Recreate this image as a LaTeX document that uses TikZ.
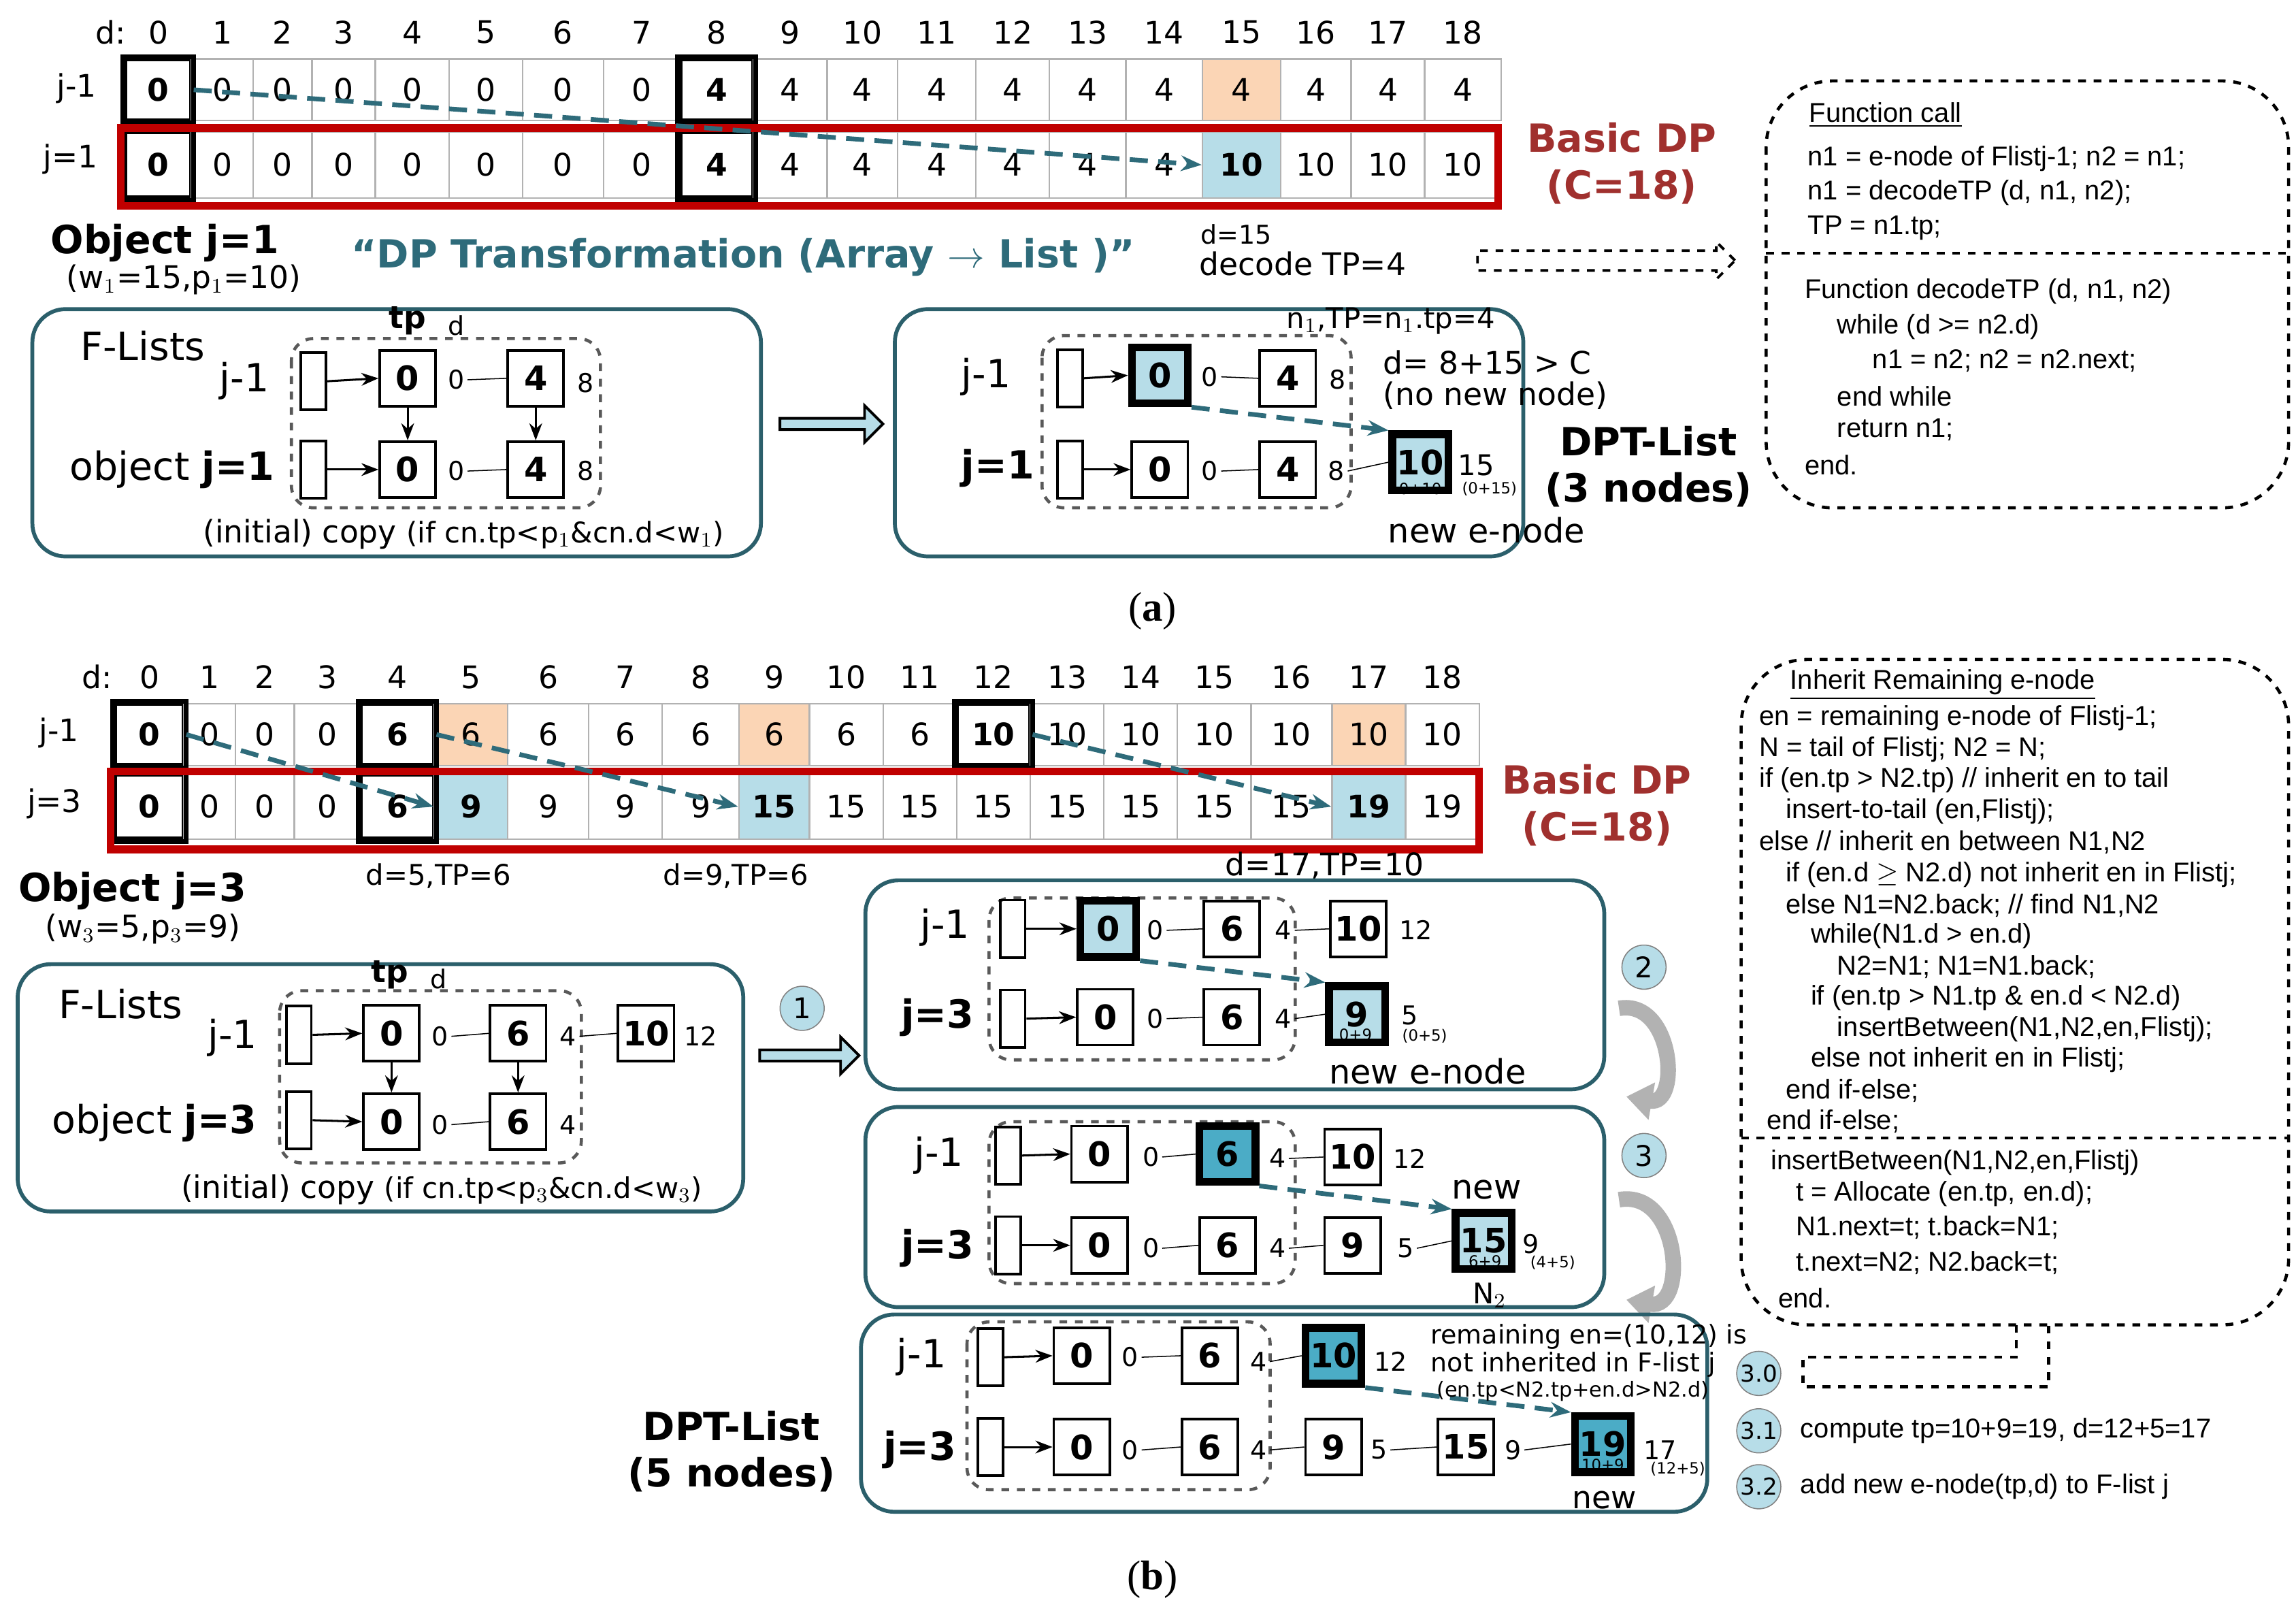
\documentclass[tikz,border=0pt]{standalone}
\usepackage{fontspec}
\setmainfont{DejaVu Sans}
\newfontfamily\codef{Liberation Sans}
\newfontfamily\seriff{Liberation Serif}
\usetikzlibrary{arrows.meta,shapes.arrows}
\definecolor{tealc}{HTML}{2E6B7A}
\definecolor{boxc}{HTML}{2B5F6B}
\definecolor{redc}{HTML}{C00000}
\definecolor{dpc}{HTML}{A0302E}
\definecolor{orc}{HTML}{FBD5B5}
\definecolor{lbc}{HTML}{B7DDE8}
\definecolor{dbc}{HTML}{4BACC6}
\newcommand\fsz[1]{\fontsize{#1}{#1}\selectfont}
\newcommand\LN[5]{\node[ln,#5] (#1) at (#2,#3) {#4};}
\newcommand\LB[4]{\node[lb] (#1) at (#2,#3) {#4};}
\newcommand\HD[3]{\node[hd] (#1) at (#2,#3) {};}
\begin{document}
\begin{tikzpicture}[x=0.02cm,y=-0.02cm,
 c/.style={draw=gray!60,line width=0.6pt,inner sep=0pt,font=\fsz{12}},
 cb/.style={c,draw=black,line width=1.8pt,font=\fsz{12}\bfseries},
 co/.style={c,fill=orc},
 cbl/.style={c,fill=lbc,font=\fsz{12}\bfseries},
 idx/.style={font=\fsz{12},inner sep=0pt},
 dar/.style={dash pattern=on 7pt off 4pt,line width=1.8pt,tealc,-{Stealth[length=8pt]}},
 ln/.style={draw,line width=1pt,minimum size=0.76cm,inner sep=0pt,font=\fsz{13}\bfseries},
 thk/.style={line width=3pt},
 lb/.style={font=\fsz{10},inner sep=1pt},
 sm/.style={font=\fsz{6},inner sep=0pt},
 hd/.style={draw,line width=1pt,minimum width=0.34cm,minimum height=0.78cm,inner sep=0pt},
 ob/.style={draw=boxc,line width=1.5pt,rounded corners=0.45cm},
 ib/.style={draw=gray!70!black,dashed,line width=1.2pt,rounded corners=0.3cm},
 circ/.style={circle,draw=gray,fill=lbc,minimum size=0.6cm,inner sep=0pt,font=\fsz{11}},
 code/.style={anchor=west,font=\codef\fsz{10.5},inner sep=0pt},
 big/.style={font=\fsz{15}},
 bigb/.style={font=\fsz{15}\bfseries},
 hol/.style={single arrow,draw,line width=1pt,fill=lbc,minimum width=0.5cm,single arrow head extend=0.12cm,inner sep=1pt}
]
\useasboundingbox (0,0) rectangle (1560,1094);
% ===================== (a) ======================
\node[idx] (ad) at (75,22) {d:};
\foreach \l/\r/\v/\s [count=\i from 0] in {85/130/0/cb,130/172/0/c,172/212/0/c,212/255/0/c,255/305/0/c,305/355/0/c,355/410/0/c,410/462/0/c,462/512/4/cb,512/562/4/c,562/610/4/c,610/663/4/c,663/713/4/c,713/765/4/c,765/817/4/c,817/870/4/co,870/918/4/c,918/968/4/c,968/1020/4/c}{
 \node[idx] (ai\i) at ({(\l+\r)/2},22) {\i};
 \node[\s,minimum width={(\r-\l)*0.02cm},minimum height=0.84cm] (at\i) at ({(\l+\r)/2},61) {\v};
}
\foreach \l/\r/\v/\s [count=\i from 0] in {85/130/0/cb,130/172/0/c,172/212/0/c,212/255/0/c,255/305/0/c,305/355/0/c,355/410/0/c,410/462/0/c,462/512/4/cb,512/562/4/c,562/610/4/c,610/663/4/c,663/713/4/c,713/765/4/c,765/817/4/c,817/870/10/cbl,870/918/10/c,918/968/10/c,968/1020/10/c}{
 \node[\s,minimum width={(\r-\l)*0.02cm},minimum height=0.9cm] (ab\i) at ({(\l+\r)/2},112) {\v};
}
\draw[cb] (at0.north west) rectangle (at0.south east);
\draw[cb] (at8.north west) rectangle (at8.south east);
\draw[cb] (ab0.north west) rectangle (ab0.south east);
\draw[cb] (ab8.north west) rectangle (ab8.south east);
\draw[redc,line width=3pt] (82,87) rectangle (1018,140);
\draw[dar] (at0.east) -- (ab15.west);
\node[font=\fsz{12}] (aj1) at (52,60) {j-1};
\node[font=\fsz{12}] (aj2) at (48,108) {j=1};
\node[bigb,text=dpc,align=center] (abdp) at (1102,111) {Basic DP\\[3pt](C=18)};
\node[bigb] (aobj) at (112,165) {Object j=1};
\node[font=\fsz{12}] (aw) at (125,190) {(w$_1$=15,p$_1$=10)};
\node[font=\fsz{15}\bfseries,text=tealc] (atr) at (505,175) {“DP Transformation (Array $\rightarrow$ List )”};
\node[font=\fsz{10}] (ad15) at (840,159) {d=15};
\node[font=\fsz{12}] (adec) at (885,179) {decode TP=4};
\node[single arrow,draw,dashed,line width=1pt,minimum width=0.5cm,minimum height=3.5cm,single arrow head extend=0.12cm] (adarr) at (1088,177) {};
% function box
\draw[dashed,line width=1.2pt,rounded corners=0.9cm] (1200,55) rectangle (1555,345);
\draw[dashed,line width=1pt] (1200,172) -- (1555,172);
\node[code] (fc0) at (1229,78) {\underline{Function call}};
\node[code] (fc1) at (1228,108) {n1 = e-node of Flistj-1; n2 = n1;};
\node[code] (fc2) at (1228,131) {n1 = decodeTP (d, n1, n2);};
\node[code] (fc3) at (1228,155) {TP = n1.tp;};
\node[code] (fc4) at (1226,198) {Function decodeTP (d, n1, n2)};
\node[code] (fc5) at (1248,222) {while (d >= n2.d)};
\node[code] (fc6) at (1272,245) {n1 = n2; n2 = n2.next;};
\node[code] (fc7) at (1248,269) {end while};
\node[code] (fc8) at (1248,292) {return n1;};
\node[code] (fc9) at (1226,316) {end.};
% a-left box
\draw[ob] (22,210) rectangle (517,378);
\draw[ib] (198,230) rectangle (408,345);
\node[big] (afl) at (97,235) {F-Lists};
\node[big] (afj) at (166,259) {j-1};
\node[big] (afo) at (117,319) {object \textbf{j=1}};
\node[font=\fsz{12}\bfseries] (atp) at (277,218) {tp};
\node[font=\fsz{10}] (ad1) at (310,221) {d};
\HD{ha1}{213}{259} \HD{ha2}{213}{319}
\LN{la1}{277}{257}{0}{} \LN{la2}{364}{257}{4}{}
\LN{la3}{277}{319}{0}{} \LN{la4}{364}{319}{4}{}
\LB{lal1}{310}{258}{0} \LB{lal2}{398}{260}{8} \LB{lal3}{310}{320}{0} \LB{lal4}{398}{320}{8}
\draw[-{Stealth},thick] (ha1.east) -- (la1.west);
\draw[-{Stealth},thick] (ha2.east) -- (la3.west);
\draw (lal1.east) -- (la2.west); \draw (lal3.east) -- (la4.west);
\draw[-{Stealth},thick] (la1.south) -- (la3.north);
\draw[-{Stealth},thick] (la2.south) -- (la4.north);
\node[font=\fsz{12}] (acopy) at (315,363) {(initial) copy {\fsz{11}(if cn.tp<p$_1$\&cn.d<w$_1$)}};
\node[hol,minimum height=1.4cm] (aha) at (563,288) {};
% a-right box
\draw[ob] (608,210) rectangle (1035,378);
\draw[ib] (708,228) rectangle (918,345);
\node[big] (arj1) at (670,256) {j-1};
\node[bigb] (arj2) at (678,318) {j=1};
\HD{hr1}{727}{257} \HD{hr2}{727}{319}
\LN{lr1}{788}{255}{0}{thk,fill=lbc} \LN{lr2}{875}{257}{4}{}
\LN{lr3}{788}{319}{0}{} \LN{lr4}{875}{319}{4}{}
\LN{lr5}{965}{314}{10}{thk,fill=lbc}
\LB{lrl1}{822}{256}{0} \LB{lrl2}{909}{258}{8} \LB{lrl3}{822}{320}{0} \LB{lrl4}{908}{320}{8}
\LB{lrl5}{1003}{316}{\fsz{11}15}
\node[sm] (lrs1) at (965,332) {0+10};
\node[sm] (lrs2) at (1012,332) {(0+15)};
\draw[-{Stealth},thick] (hr1.east) -- (lr1.west);
\draw[-{Stealth},thick] (hr2.east) -- (lr3.west);
\draw (lrl1.east) -- (lr2.west); \draw (lrl3.east) -- (lr4.west);
\draw (lrl4.east) -- (lr5.west);
\draw[dar] (lr1.south east) -- (lr5.north west);
\node[font=\fsz{11}] (an1) at (945,218) {n$_1$,TP=n$_1$.tp=4};
\node[font=\fsz{12},align=left] (adc) at (1016,258) {d= 8+15 > C\\(no new node)};
\node[font=\fsz{13}] (anew) at (1010,360) {new e-node};
\node[bigb,align=center] (adpt) at (1120,317) {DPT-List\\[3pt](3 nodes)};
\node[font=\seriff\fsz{16}] (alab) at (783,415) {(\textbf{a})};
% ===================== (b) ======================
\node[idx] (bd) at (66,460) {d:};
\foreach \l/\r/\v/\s [count=\i from 0] in {78/125/0/cb,125/160/0/c,160/200/0/c,200/245/0/c,245/295/6/cb,295/345/6/co,345/400/6/c,400/450/6/c,450/502/6/c,502/550/6/co,550/600/6/c,600/650/6/c,650/700/10/cb,700/750/10/c,750/800/10/c,800/850/10/c,850/905/10/c,905/955/10/co,955/1005/10/c}{
 \node[idx] (bi\i) at ({(\l+\r)/2},460) {\i};
 \node[\s,minimum width={(\r-\l)*0.02cm},minimum height=0.84cm] (bt\i) at ({(\l+\r)/2},499) {\v};
}
\foreach \l/\r/\v/\s [count=\i from 0] in {78/125/0/cb,125/160/0/c,160/200/0/c,200/245/0/c,245/295/6/cb,295/345/9/cbl,345/400/9/c,400/450/9/c,450/502/9/c,502/550/15/cbl,550/600/15/c,600/650/15/c,650/700/15/c,700/750/15/c,750/800/15/c,800/850/15/c,850/905/15/c,905/955/19/cbl,955/1005/19/c}{
 \node[\s,minimum width={(\r-\l)*0.02cm},minimum height=0.88cm] (bb\i) at ({(\l+\r)/2},548) {\v};
}
\draw[cb] (bt0.north west) rectangle (bt0.south east);
\draw[cb] (bt4.north west) rectangle (bt4.south east);
\draw[cb] (bt12.north west) rectangle (bt12.south east);
\draw[cb] (bb0.north west) rectangle (bb0.south east);
\draw[cb] (bb4.north west) rectangle (bb4.south east);
\draw[redc,line width=3pt] (75,524) rectangle (1005,577);
\draw[dar] (bt0.east) -- (bb5.west);
\draw[dar] (bt4.east) -- (bb9.west);
\draw[dar] (bt12.east) -- (bb17.west);
\node[font=\fsz{12}] (bj1) at (40,498) {j-1};
\node[font=\fsz{12}] (bj3) at (37,546) {j=3};
\node[bigb,text=dpc,align=center] (bbdp) at (1085,547) {Basic DP\\[3pt](C=18)};
\node[font=\fsz{11}] (bd5) at (298,595) {d=5,TP=6};
\node[font=\fsz{11}] (bd9) at (500,595) {d=9,TP=6};
\node[font=\fsz{12}] (bd17) at (900,588) {d=17,TP=10};
\node[bigb] (bobj) at (90,605) {Object j=3};
\node[font=\fsz{12}] (bw) at (97,631) {(w$_3$=5,p$_3$=9)};
% b-left
\draw[ob] (12,655) rectangle (505,823);
\draw[ib] (190,673) rectangle (395,790);
\node[big] (bfl) at (82,682) {F-Lists};
\node[big] (bfj) at (158,705) {j-1};
\node[big] (bfo) at (105,763) {object \textbf{j=3}};
\node[font=\fsz{12}\bfseries] (btp) at (265,662) {tp};
\node[font=\fsz{10}] (bdd) at (298,665) {d};
\HD{hb1}{203}{703} \HD{hb2}{203}{761}
\LN{lb1}{266}{702}{0}{} \LN{lb2}{352}{702}{6}{} \LN{lb3}{439}{702}{10}{}
\LN{lb4}{266}{762}{0}{} \LN{lb5}{352}{762}{6}{}
\LB{lbl1}{299}{704}{0} \LB{lbl2}{386}{704}{4} \LB{lbl3}{476}{704}{12}
\LB{lbl4}{299}{764}{0} \LB{lbl5}{386}{764}{4}
\draw[-{Stealth},thick] (hb1.east) -- (lb1.west);
\draw[-{Stealth},thick] (hb2.east) -- (lb4.west);
\draw (lbl1.east) -- (lb2.west); \draw (lbl2.east) -- (lb3.west);
\draw (lbl4.east) -- (lb5.west);
\draw[-{Stealth},thick] (lb1.south) -- (lb4.north);
\draw[-{Stealth},thick] (lb2.south) -- (lb5.north);
\node[font=\fsz{12}] (bcopy) at (300,808) {(initial) copy {\fsz{11}(if cn.tp<p$_3$\&cn.d<w$_3$)}};
\node[circ] (c1) at (545,685) {1};
\node[hol,minimum height=1.35cm] (bha) at (548,717) {};
% b1
\draw[ob] (588,598) rectangle (1090,740);
\draw[ib] (672,610) rectangle (880,720);
\node[big] (b1j1) at (642,630) {j-1};
\node[bigb] (b1j3) at (637,691) {j=3};
\HD{h11}{688}{631} \HD{h12}{688}{692}
\LN{n11}{753}{631}{0}{thk,fill=lbc} \LN{n12}{837}{631}{6}{} \LN{n13}{923}{631}{10}{}
\LN{n14}{751}{691}{0}{} \LN{n15}{837}{691}{6}{} \LN{n16}{922}{689}{9}{thk,fill=lbc}
\LB{m11}{785}{632}{0} \LB{m12}{872}{632}{4} \LB{m13}{962}{632}{12}
\LB{m14}{785}{692}{0} \LB{m15}{872}{692}{4} \LB{m16}{958}{690}{5}
\node[sm] (s11) at (921,703) {0+9};
\node[sm] (s12) at (968,704) {(0+5)};
\draw[-{Stealth},thick] (h11.east) -- (n11.west);
\draw[-{Stealth},thick] (h12.east) -- (n14.west);
\draw (m11.east) -- (n12.west); \draw (m12.east) -- (n13.west);
\draw (m14.east) -- (n15.west); \draw (m15.east) -- (n16.west);
\draw[dar] (n11.south east) -- (n16.north west);
\node[font=\fsz{13}] (b1new) at (970,728) {new e-node};
\node[circ] (c2) at (1117,657) {2};
\draw[-{Triangle[length=10pt,width=14pt]},line width=6pt,gray!60] (1100,685) to[out=10,in=-10,looseness=1.6] (1105,745);
% b2
\draw[ob] (588,752) rectangle (1090,888);
\draw[ib] (672,762) rectangle (880,872);
\node[big] (b2j1) at (638,785) {j-1};
\node[bigb] (b2j3) at (637,848) {j=3};
\HD{h21}{685}{785} \HD{h22}{685}{846}
\LN{n21}{747}{784}{0}{} \LN{n22}{834}{784}{6}{thk,fill=dbc} \LN{n23}{919}{786}{10}{}
\LN{n24}{747}{846}{0}{} \LN{n25}{834}{846}{6}{} \LN{n26}{919}{846}{9}{} \LN{n27}{1008}{843}{15}{thk,fill=lbc}
\LB{m21}{782}{786}{0} \LB{m22}{868}{787}{4} \LB{m23}{958}{787}{12}
\LB{m24}{782}{848}{0} \LB{m25}{868}{848}{4} \LB{m26}{955}{848}{5} \LB{m27}{1040}{845}{9}
\node[sm] (s21) at (1009,857) {6+9};
\node[sm] (s22) at (1055,858) {(4+5)};
\draw[-{Stealth},thick] (h21.east) -- (n21.west);
\draw[-{Stealth},thick] (h22.east) -- (n24.west);
\draw (m21.east) -- (n22.west); \draw (m22.east) -- (n23.west);
\draw (m24.east) -- (n25.west); \draw (m25.east) -- (n26.west); \draw (m26.east) -- (n27.west);
\draw[dar] (n22.south east) -- (n27.north west);
\node[font=\fsz{13}] (b2new) at (1010,808) {new};
\node[font=\fsz{11}] (b2n2) at (1012,880) {N$_2$};
\node[circ] (c3) at (1117,785) {3};
\draw[-{Triangle[length=10pt,width=14pt]},line width=6pt,gray!60] (1100,815) to[out=10,in=-10,looseness=1.6] (1105,883);
% b3
\draw[ob] (585,893) rectangle (1160,1027);
\draw[ib] (657,898) rectangle (863,1012);
\node[big] (b3j1) at (626,922) {j-1};
\node[bigb] (b3j3) at (625,985) {j=3};
\HD{h31}{673}{922} \HD{h32}{673}{983}
\LN{n31}{735}{921}{0}{} \LN{n32}{822}{921}{6}{} \LN{n33}{906}{921}{10}{thk,fill=dbc}
\LN{n34}{735}{983}{0}{} \LN{n35}{822}{983}{6}{} \LN{n36}{906}{983}{9}{} \LN{n37}{996}{983}{15}{} \LN{n38}{1089}{981}{19}{thk,fill=dbc}
\LB{m31}{768}{922}{0} \LB{m32}{855}{925}{4} \LB{m33}{945}{925}{12}
\LB{m34}{768}{985}{0} \LB{m35}{855}{985}{4} \LB{m36}{937}{985}{5} \LB{m37}{1028}{985}{9} \LB{m38}{1128}{985}{17}
\node[sm] (s31) at (1089,995) {10+9};
\node[sm] (s32) at (1140,998) {(12+5)};
\draw[-{Stealth},thick] (h31.east) -- (n31.west);
\draw[-{Stealth},thick] (h32.east) -- (n34.west);
\draw (m31.east) -- (n32.west); \draw (m32.east) -- (n33.west);
\draw (m34.east) -- (n35.west); \draw (m35.east) -- (n36.west); \draw (m36.east) -- (n37.west); \draw (m37.east) -- (n38.west);
\draw[dar] (n33.south east) -- (n38.north west);
\node[font=\fsz{12}] (b3new) at (1090,1019) {new};
\node[font=\fsz{10},anchor=west] (brem) at (966,908) {remaining en=(10,12) is};
\node[font=\fsz{10},anchor=west] (brem2) at (966,927) {not inherited in F-list j};
\node[font=\fsz{8},anchor=west] (brem3) at (970,945) {(en.tp<N2.tp+en.d>N2.d)};
\node[bigb,align=center] (bdpt) at (497,986) {DPT-List\\[3pt](5 nodes)};
% right code box (b)
\draw[dashed,line width=1.2pt,rounded corners=0.9cm] (1183,448) rectangle (1555,900);
\draw[dashed,line width=1.2pt] (1370,900) -- (1370,922) -- (1225,922) -- (1225,942) -- (1392,942) -- (1392,900);
\draw[dashed,line width=1pt] (1183,773) -- (1555,773);
\node[code] (k0) at (1216,465) {\underline{Inherit Remaining e-node}};
\node[code] (k1) at (1195,488) {en = remaining e-node of Flistj-1;};
\node[code] (k2) at (1195,509) {N = tail of Flistj; N2 = N;};
\node[code] (k3) at (1195,530) {if (en.tp > N2.tp) // inherit en to tail};
\node[code] (k4) at (1213,551) {insert-to-tail (en,Flistj);};
\node[code] (k5) at (1195,572) {else // inherit en between N1,N2};
\node[code] (k6) at (1213,594) {if (en.d $\geq$ N2.d) not inherit en in Flistj;};
\node[code] (k7) at (1213,615) {else N1=N2.back; // find N1,N2};
\node[code] (k8) at (1230,636) {while(N1.d > en.d)};
\node[code] (k9) at (1248,657) {N2=N1; N1=N1.back;};
\node[code] (k10) at (1230,678) {if (en.tp > N1.tp \& en.d < N2.d)};
\node[code] (k11) at (1248,699) {insertBetween(N1,N2,en,Flistj);};
\node[code] (k12) at (1230,720) {else not inherit en in Flistj;};
\node[code] (k13) at (1213,741) {end if-else;};
\node[code] (k14) at (1200,762) {end if-else;};
\node[code] (k15) at (1203,790) {insertBetween(N1,N2,en,Flistj)};
\node[code] (k16) at (1220,811) {t = Allocate (en.tp, en.d);};
\node[code] (k17) at (1220,834) {N1.next=t; t.back=N1;};
\node[code] (k18) at (1220,858) {t.next=N2; N2.back=t;};
\node[code] (k19) at (1208,882) {end.};
\node[circ,font=\fsz{9}] (c30) at (1195,933) {3.0};
\node[circ,font=\fsz{9}] (c31) at (1195,972) {3.1};
\node[circ,font=\fsz{9}] (c32) at (1195,1010) {3.2};
\node[code] (t31) at (1223,972) {compute tp=10+9=19, d=12+5=17};
\node[code] (t32) at (1223,1010) {add new e-node(tp,d) to F-list j};
\node[font=\seriff\fsz{16}] (blab) at (783,1073) {(\textbf{b})};
\end{tikzpicture}
\end{document}
